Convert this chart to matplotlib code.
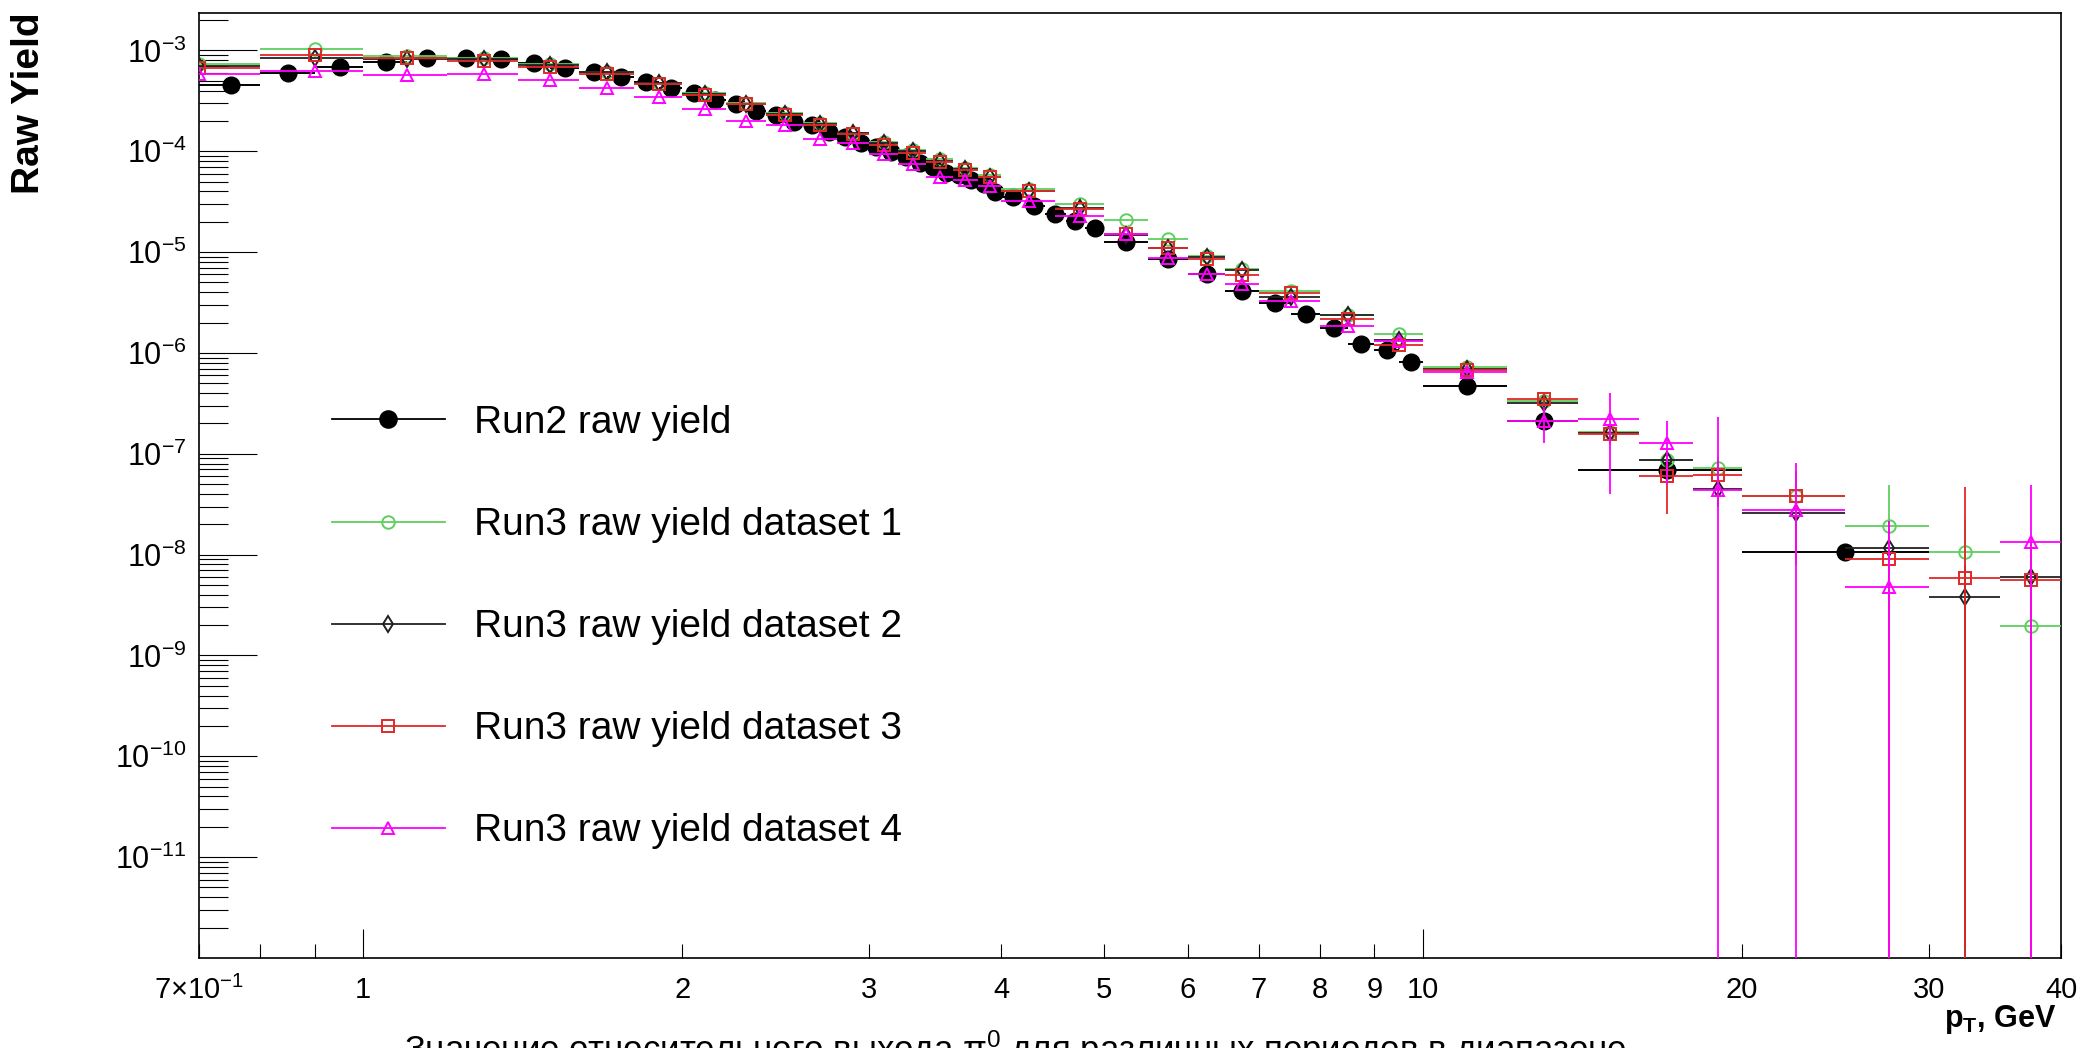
import numpy as np
import matplotlib
matplotlib.use("Agg")
import matplotlib.pyplot as plt
from matplotlib.lines import Line2D
from matplotlib.ticker import FixedLocator, FixedFormatter, NullFormatter

plt.rcParams["font.family"] = ["Liberation Sans", "DejaVu Sans"]
plt.rcParams["mathtext.fontset"] = "custom"
plt.rcParams["mathtext.rm"] = "Liberation Sans"
plt.rcParams["mathtext.it"] = "Liberation Sans:italic"
plt.rcParams["mathtext.bf"] = "Liberation Sans:bold"
plt.rcParams["mathtext.default"] = "regular"

# Run2 binning and yield
run2_edges = [0.7, 0.8, 0.9, 1.0, 1.1, 1.2, 1.3, 1.4, 1.5, 1.6, 1.7, 1.8, 1.9, 2.0,
              2.1, 2.2, 2.3, 2.4, 2.5, 2.6, 2.7, 2.8, 2.9, 3.0, 3.1, 3.2, 3.3, 3.4,
              3.5, 3.6, 3.7, 3.8, 3.9, 4.0, 4.2, 4.4, 4.6, 4.8, 5.0, 5.5, 6.0, 6.5,
              7.0, 7.5, 8.0, 8.5, 9.0, 9.5, 10.0, 12.0, 14.0, 20.0, 30.0]
run2_yield = [4.54e-4, 6.0e-4, 6.9e-4, 7.67e-4, 8.35e-4, 8.35e-4, 8.16e-4, 7.45e-4,
              6.64e-4, 6.1e-4, 5.41e-4, 4.83e-4, 4.21e-4, 3.81e-4, 3.22e-4, 2.94e-4,
              2.52e-4, 2.29e-4, 1.97e-4, 1.82e-4, 1.56e-4, 1.40e-4, 1.22e-4, 1.11e-4,
              9.9e-5, 8.7e-5, 7.7e-5, 6.93e-5, 6.14e-5, 5.82e-5, 5.2e-5, 4.75e-5,
              3.98e-5, 3.55e-5, 2.87e-5, 2.39e-5, 2.05e-5, 1.73e-5, 1.27e-5, 8.5e-6,
              6.0e-6, 4.16e-6, 3.11e-6, 2.42e-6, 1.76e-6, 1.23e-6, 1.07e-6, 8.04e-7,
              4.72e-7, 2.09e-7, 6.84e-8, 1.05e-8]

# Run3 binning (shared by the four datasets)
run3_edges = [0.6, 0.8, 1.0, 1.2, 1.4, 1.6, 1.8, 2.0, 2.2, 2.4, 2.6, 2.8, 3.0, 3.2,
              3.4, 3.6, 3.8, 4.0, 4.5, 5.0, 5.5, 6.0, 6.5, 7.0, 8.0, 9.0, 10.0,
              12.0, 14.0, 16.0, 18.0, 20.0, 25.0, 30.0, 35.0, 40.0]
ds1_yield = [7.3e-4, 1.03e-3, 8.9e-4, 8.35e-4, 7.3e-4, 6.15e-4, 4.8e-4, 3.76e-4,
             3.03e-4, 2.42e-4, 1.92e-4, 1.53e-4, 1.24e-4, 1.03e-4, 8.3e-5, 6.9e-5,
             5.8e-5, 4.2e-5, 3.0e-5, 2.08e-5, 1.34e-5, 9.2e-6, 6.8e-6, 4.1e-6,
             2.4e-6, 1.55e-6, 7.3e-7, 3.3e-7, 1.66e-7, 8.6e-8, 7.2e-8, 3.8e-8,
             1.92e-8, 1.05e-8, 1.94e-9]
ds2_yield = [7.0e-4, 8.4e-4, 8.3e-4, 8.3e-4, 7.2e-4, 6.05e-4, 4.75e-4, 3.7e-4,
             2.95e-4, 2.35e-4, 1.87e-4, 1.5e-4, 1.2e-4, 1.0e-4, 8.0e-5, 6.7e-5,
             5.6e-5, 4.0e-5, 2.75e-5, 1.48e-5, 1.1e-5, 8.9e-6, 6.6e-6, 3.6e-6,
             2.38e-6, 1.35e-6, 7.0e-7, 3.2e-7, 1.6e-7, 8.7e-8, 4.5e-8, 2.58e-8,
             1.15e-8, 3.83e-9, 5.97e-9]
ds3_yield = [6.7e-4, 9.1e-4, 8.35e-4, 7.9e-4, 6.9e-4, 5.8e-4, 4.6e-4, 3.6e-4,
             2.92e-4, 2.29e-4, 1.82e-4, 1.48e-4, 1.16e-4, 9.7e-5, 7.8e-5, 6.5e-5,
             5.5e-5, 4.05e-5, 2.7e-5, 1.5e-5, 1.09e-5, 8.5e-6, 5.94e-6, 3.9e-6,
             2.16e-6, 1.2e-6, 6.8e-7, 3.48e-7, 1.56e-7, 6.0e-8, 6.1e-8, 3.79e-8,
             9.0e-9, 5.8e-9, 5.6e-9]
ds4_yield = [5.8e-4, 6.2e-4, 5.7e-4, 5.8e-4, 5.1e-4, 4.27e-4, 3.43e-4, 2.62e-4,
             2.01e-4, 1.82e-4, 1.32e-4, 1.2e-4, 9.4e-5, 7.5e-5, 5.6e-5, 5.2e-5,
             4.5e-5, 3.24e-5, 2.27e-5, 1.5e-5, 8.7e-6, 6.1e-6, 4.84e-6, 3.28e-6,
             1.83e-6, 1.31e-6, 6.5e-7, 2.09e-7, 2.2e-7, 1.29e-7, 4.4e-8, 2.74e-8,
             4.72e-9, np.nan, 1.32e-8]

# statistical errors, visible only above 10 GeV (bins 10-12 ... 35-40)
ds1_err_hi = [3e-8, 4e-8, 3e-8, 1.5e-8, 2e-8, 2.5e-8, 3.0e-8, 1.2e-8, 4e-9]
ds2_err_hi = [3e-8, 4e-8, 3e-8, 1.5e-8, 1.5e-8, 1.5e-8, 1.0e-8, 4e-9, 6e-9]
ds3_err_hi = [3e-8, 4e-8, 3e-8, 3.5e-8, 2.5e-8, 3.0e-8, 1.2e-8, 4.1e-8, 8e-9]
ds4_err_hi = [3e-8, 8e-8, 1.8e-7, 8e-8, 1.86e-7, 5.4e-8, 1.7e-8, np.nan, 3.6e-8]

labels = ["Run2 raw yield", "Run3 raw yield dataset 1", "Run3 raw yield dataset 2",
          "Run3 raw yield dataset 3", "Run3 raw yield dataset 4"]

title = "Значение относительного выхода π$^{0}$ для различных периодов в диапазоне"


def centers_and_xerr(edges):
    e = np.array(edges)
    lo, hi = e[:-1], e[1:]
    c = (lo + hi) / 2
    return c, [c - lo, hi - c]


fig = plt.figure(figsize=(20.81, 10.48), dpi=100)
ax = fig.add_axes([0.0956, 0.0859, 0.8948, 0.9017])
ax.set_xscale("log")
ax.set_yscale("log")

styles = [
    dict(color="black", marker="o", mfc="black", ms=12),
    dict(color="#5ecf5e", marker="o", mfc="none", ms=9),
    dict(color="#222222", marker="d", mfc="none", ms=8),
    dict(color="#e02828", marker="s", mfc="none", ms=8),
    dict(color="#ff00ff", marker="^", mfc="none", ms=9),
]

x2, x2err = centers_and_xerr(run2_edges)
ax.errorbar(x2, run2_yield, xerr=x2err, fmt="none", ecolor="black",
            elinewidth=1.4, capsize=0, zorder=2)
ax.plot(x2, run2_yield, ls="none", marker="o", color="black", ms=styles[0]["ms"], zorder=2)

x3, x3err = centers_and_xerr(run3_edges)
n_lo = len(x3) - len(ds1_err_hi)
series = [(ds1_yield, ds1_err_hi), (ds2_yield, ds2_err_hi),
          (ds3_yield, ds3_err_hi), (ds4_yield, ds4_err_hi)]
for i, (yv, eh) in enumerate(series):
    st = styles[i + 1]
    yerr = [0.0] * n_lo + list(eh)
    ax.errorbar(x3, yv, xerr=x3err, yerr=yerr, fmt="none", ecolor=st["color"],
                elinewidth=1.3, capsize=0, zorder=3 + i)
    ax.plot(x3, yv, ls="none", marker=st["marker"], mfc=st["mfc"],
            mec=st["color"], mew=1.4, ms=st["ms"], zorder=3 + i)

ax.set_xlim(0.7, 40)
ax.set_ylim(1e-12, 2.35e-3)

# y ticks
ymaj = [10.0 ** k for k in range(-11, -2)]
ax.yaxis.set_major_locator(FixedLocator(ymaj))
ax.yaxis.set_major_formatter(FixedFormatter([r"$10^{%d}$" % k for k in range(-11, -2)]))
ymin = [m * 10.0 ** k for k in range(-12, -2) for m in range(2, 10)]
ax.yaxis.set_minor_locator(FixedLocator(ymin))
ax.yaxis.set_minor_formatter(NullFormatter())

# x ticks
ax.xaxis.set_major_locator(FixedLocator([1, 10]))
ax.xaxis.set_major_formatter(FixedFormatter(["1", "10"]))
xmin = [0.7, 0.8, 0.9, 2, 3, 4, 5, 6, 7, 8, 9, 20, 30, 40]
xmin_lab = ["7×10$^{-1}$", "", "", "2", "3", "4", "5", "6", "7", "8", "9", "20", "30", "40"]
ax.xaxis.set_minor_locator(FixedLocator(xmin))
ax.xaxis.set_minor_formatter(FixedFormatter(xmin_lab))

ax.tick_params(axis="both", which="both", direction="in", top=False, right=False,
               width=0.8, labelsize=21)
ax.tick_params(axis="y", which="major", length=42, pad=9, labelsize=22)
ax.tick_params(axis="y", which="minor", length=21)
ax.tick_params(axis="x", which="major", length=21, pad=13)
ax.tick_params(axis="x", which="minor", length=10, pad=13)
for sp in ax.spines.values():
    sp.set_linewidth(1.2)

fig.text(29 / 2081, 1 - 12 / 1048, "Raw Yield", rotation=90, ha="center", va="top",
         fontsize=28, fontweight="bold")
fig.text(2057 / 2081, 1 - 1027 / 1048, "p$_{T}$, GeV", ha="right", va="baseline",
         fontsize=22, fontweight="bold")
fig.text(1015 / 2081, -0.012, title, ha="center", va="baseline", fontsize=25)

handles = [Line2D([], [], color=st["color"], marker=st["marker"], mfc=st["mfc"],
                  mec=st["color"], ms=st["ms"], lw=1.3, mew=1.4) for st in styles]
ax.legend(handles, labels, loc="upper left", bbox_to_anchor=(332 / 2081, 1 - 405 / 1048),
          bbox_transform=fig.transFigure, frameon=False, fontsize=28,
          handlelength=2.9, handletextpad=0.75, labelspacing=1.7,
          borderpad=0, borderaxespad=0)

fig.savefig("out.png", dpi=100)
